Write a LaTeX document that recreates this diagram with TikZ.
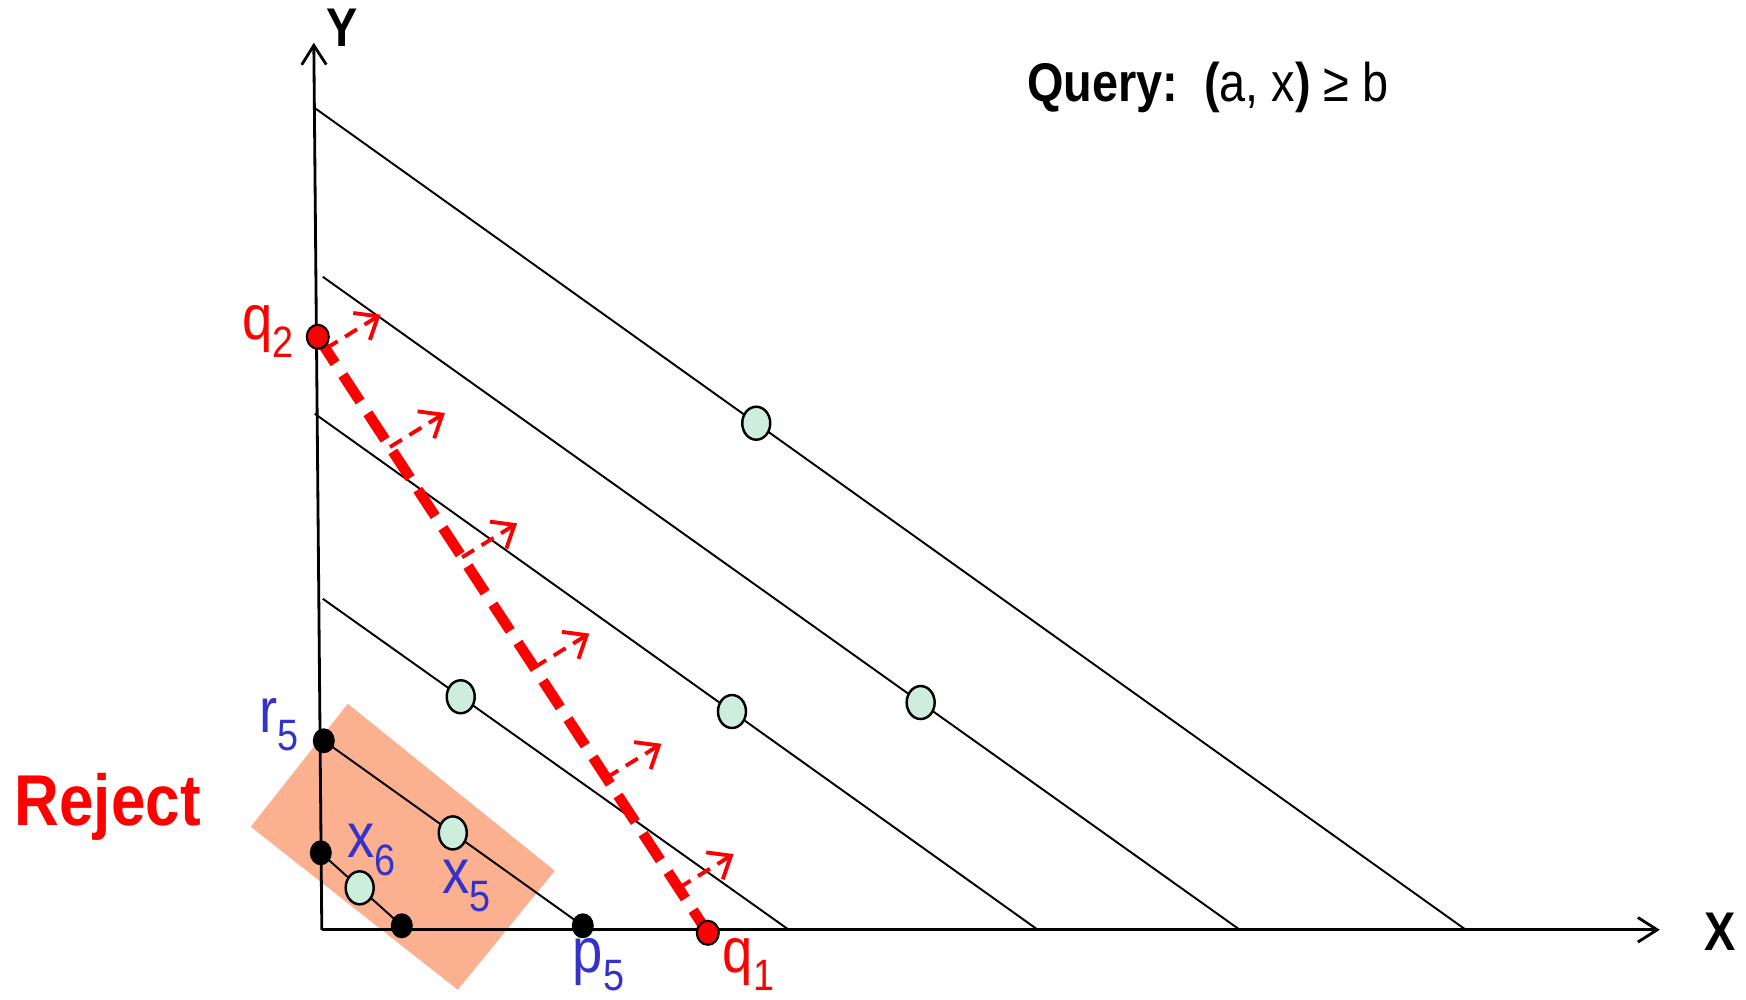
\documentclass[tikz,border=0pt]{standalone}
\usepackage{fontspec}
\setmainfont[FakeStretch=0.86]{Liberation Sans}
\usetikzlibrary{calc,arrows.meta,shapes.geometric}

\definecolor{ptgreen}{HTML}{CDEEDD}
\definecolor{rejfill}{HTML}{FBB08F}
\definecolor{labblue}{HTML}{3333CC}

% label with lowered index
\newcommand{\idx}[2]{#1\raisebox{-5pt}{\fontsize{12.5}{12.5}\selectfont #2}}

\begin{document}
\begin{tikzpicture}[>={Straight Barb[length=5.5pt,width=7pt]},line width=0.55pt,
  axis/.style={line width=0.8pt,->},
  pt/.style={ellipse,draw,fill=ptgreen,line width=0.7pt,minimum width=0.28cm,minimum height=0.33cm,inner sep=0pt},
  bdot/.style={ellipse,fill=black,minimum width=0.22cm,minimum height=0.25cm,inner sep=0pt},
  rdot/.style={ellipse,draw,fill=red,line width=0.6pt,minimum width=0.22cm,minimum height=0.24cm,inner sep=0pt},
  qline/.style={red,line width=3pt,dash pattern=on 9pt off 4pt},
  qarrow/.style={red,line width=1.1pt,dash pattern=on 4pt off 2.5pt,-{Straight Barb[length=5.5pt,width=9pt]}},
  lab/.style={font=\fontsize{18}{20}\selectfont,inner sep=0pt}]
  \useasboundingbox (-3.218,-0.702) rectangle (14.242,9.298);

  % Reject region
  \fill[rejfill] (-0.71,1.03) -- (0.26,2.26) -- (2.33,0.59) -- (1.36,-0.60) -- cycle;

  % axes
  \coordinate (O) at (0,0);
  \draw[axis] (O) -- (-0.08,8.87) coordinate (ytip);
  \draw[axis] (O) -- (13.38,0) coordinate (xtip);
  \node[font=\bfseries\fontsize{15.5}{18}\selectfont] (ylab) at (0.20,9.02) {Y};
  \node[font=\bfseries\fontsize{15.5}{18}\selectfont] (xlab) at (13.98,-0.02) {X};

  % level lines
  \coordinate (a1) at (-0.06,8.21);  \coordinate (b1) at (11.44,0);
  \coordinate (a2) at (0.01,6.53);   \coordinate (b2) at (9.18,0);
  \coordinate (a3) at (-0.07,5.16);  \coordinate (b3) at (7.16,0);
  \coordinate (a4) at (0.01,3.31);   \coordinate (b4) at (4.67,0);
  \coordinate (r5) at (0.02,1.89);   \coordinate (p5) at (2.61,0.04);
  \coordinate (s6) at (-0.01,0.77);  \coordinate (t6) at (0.80,0.04);

  \draw (a1) -- (b1) node[pt,pos=0.383] (c1) {};
  \draw (a2) -- (b2) node[pt,pos=0.652] (c2) {};
  \draw (a3) -- (b3) node[pt,pos=0.577] (c3) {};
  \draw (a4) -- (b4) node[pt,pos=0.296] (c4) {};
  \draw (r5) -- (p5) node[pt,pos=0.498] (c5) {};
  \draw (s6) -- (t6) node[pt,pos=0.48] (c6) {};

  % query line
  \coordinate (q2) at (-0.04,5.93);
  \coordinate (q1) at (3.86,-0.03);
  \draw[qline] (q2) -- (q1);
  \foreach \t in {0.02,0.185,0.37,0.555,0.74,0.925}
    \draw[qarrow] ($(q2)!\t!(q1)$) -- ++(0.55,0.34);

  \node[rdot] (q2dot) at (q2) {};
  \node[rdot] (q1dot) at (q1) {};
  \node[bdot] (r5dot) at (r5) {};
  \node[bdot] (p5dot) at (p5) {};
  \node[bdot] (s6dot) at (s6) {};
  \node[bdot] (t6dot) at (t6) {};

  % labels
  \node[lab,red,anchor=base east] (q2lab) at (-0.27,5.90) {\idx{q}{2}};
  \node[lab,red,anchor=base west] (q1lab) at (4.00,-0.43) {\idx{q}{1}};
  \node[lab,labblue,anchor=base east] (r5lab) at (-0.22,1.97) {\idx{r}{5}};
  \node[lab,labblue,anchor=base west] (p5lab) at (2.50,-0.43) {\idx{p}{5}};
  \node[lab,labblue,anchor=base west] (x6lab) at (0.25,0.72) {\idx{x}{6}};
  \node[lab,labblue,anchor=base west] (x5lab) at (1.20,0.36) {\idx{x}{5}};
  \node[red,font=\bfseries\fontsize{20.5}{22}\selectfont,anchor=base] (rej) at (-2.14,1.04) {Reject};
  \node[font=\fontsize{15.5}{18}\selectfont,anchor=base] (query) at (8.86,8.28)
    {\textbf{Query:\ \ (}a, x\textbf{)} ≥ b};
\end{tikzpicture}
\end{document}
